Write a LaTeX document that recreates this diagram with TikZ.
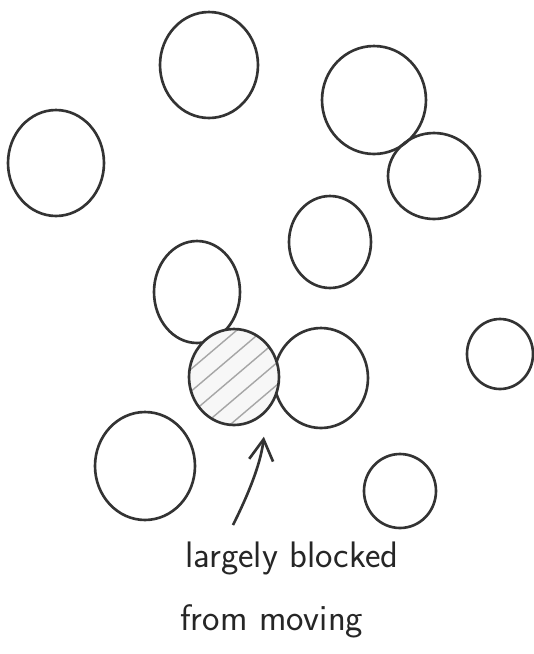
\documentclass[tikz,border=0pt]{standalone}
\usepackage{amsmath,amssymb}
\usetikzlibrary{shapes.geometric,arrows.meta}

\begin{document}
\begin{tikzpicture}[x=0.02cm,y=-0.02cm,
  blob/.style={ellipse,draw=black!80,line width=1.5pt,inner sep=0pt},
  hatch/.style={gray!70,line width=0.8pt,line cap=round},
  pointer/.style={-{Straight Barb[length=0.42cm,width=0.48cm,line width=1.5pt]},black!80,line width=1.5pt},
  note/.style={font=\sffamily\fontsize{21}{36}\selectfont,text=black!85,inner sep=0pt}]
\useasboundingbox (0,0) rectangle (534,654);
% loose particles
\node[blob,minimum width=1.96cm,minimum height=2.12cm] (p1) at (209,65) {};
\node[blob,minimum width=2.08cm,minimum height=2.16cm] (p2) at (374,100) {};
\node[blob,minimum width=1.84cm,minimum height=1.72cm] (p3) at (434,176) {};
\node[blob,minimum width=1.92cm,minimum height=2.12cm] (p4) at (56,163) {};
\node[blob,minimum width=1.64cm,minimum height=1.84cm] (p5) at (330,242) {};
\node[blob,minimum width=1.72cm,minimum height=2.04cm] (p6) at (197,292) {};
\node[blob,minimum width=1.88cm,minimum height=2.00cm] (p7) at (321,378) {};
\node[blob,minimum width=1.32cm,minimum height=1.40cm] (p8) at (500,354) {};
\node[blob,minimum width=2.00cm,minimum height=2.16cm] (p9) at (145,466) {};
\node[blob,minimum width=1.44cm,minimum height=1.48cm] (p10) at (400,491) {};
% the blocked one
\node[blob,minimum width=1.80cm,minimum height=1.92cm,fill=gray!6,
  path picture={\foreach \d in {-36,-24,...,36}
    \draw[hatch] ([shift={(\d-40,\d+34)}]path picture bounding box.center) -- ++(80,-68);}] (blk) at (234,377) {};
% label and arrow
\coordinate (tail) at (233,525);
\draw[pointer,shorten >=0.5cm] (tail) to[bend right=10] (blk.south east);
\node[note,anchor=base west] (txta) at (185,567) {largely blocked};
\node[note,anchor=base west] (txtb) at (180,630) {from moving};
\end{tikzpicture}
\end{document}
